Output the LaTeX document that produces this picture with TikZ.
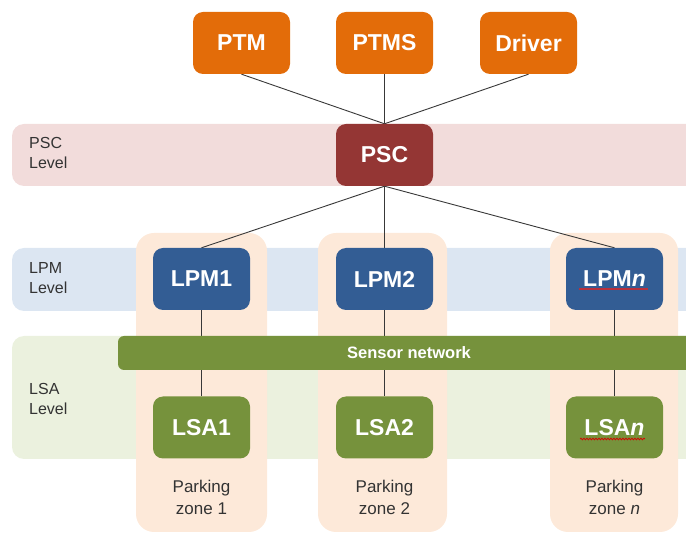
\documentclass[tikz,border=0pt]{standalone}
\usepackage{fontspec}
\setmainfont{Liberation Sans}
\usetikzlibrary{decorations.pathmorphing}
\definecolor{orng}{HTML}{E36C09}
\definecolor{pscred}{HTML}{943634}
\definecolor{lpmblue}{HTML}{335D94}
\definecolor{lsagreen}{HTML}{76923C}
\definecolor{pinkband}{HTML}{F2DCDB}
\definecolor{blueband}{HTML}{DCE6F2}
\definecolor{greenband}{HTML}{EBF1DE}
\definecolor{peach}{HTML}{FDE9D9}
\definecolor{txtgray}{HTML}{333333}
\definecolor{linegray}{HTML}{383838}
\definecolor{spellred}{HTML}{B8303C}
\pgfdeclarelayer{bg}
\pgfdeclarelayer{lines}
\pgfsetlayers{bg,lines,main}
\begin{document}
\begin{tikzpicture}[x=1pt,y=-1pt,
 box/.style={rounded corners=10pt, minimum width=97pt, minimum height=62pt, text=white, font=\fontsize{23}{27}\selectfont\bfseries, inner sep=0pt},
 band/.style={rounded corners=12pt},
 lvl/.style={anchor=west, align=left, text=txtgray, font=\fontsize{16}{20}\selectfont, inner sep=0pt},
 zone/.style={align=center, text=txtgray, font=\fontsize{17}{22}\selectfont, inner sep=0pt},
 conn/.style={draw=linegray, line width=0.9pt}]
\useasboundingbox (0,0) rectangle (686,534);
\clip (0,0) rectangle (686,534);
\begin{pgfonlayer}{bg}
\fill[pinkband, band] (12,124) rectangle (710,186);
\fill[blueband, band] (12,248) rectangle (710,311);
\fill[greenband, band] (12,336) rectangle (710,459);
\foreach \l/\r in {136/267, 318/447, 550/678}
  \fill[peach, rounded corners=18pt] (\l,233) rectangle (\r,532);
\end{pgfonlayer}
% level labels
\node[lvl] (psclvl) at (29,153) {PSC\\Level};
\node[lvl] (lpmlvl) at (29,278) {LPM\\Level};
\node[lvl] (lsalvl) at (29,399) {LSA\\Level};
% top boxes
\node[box, fill=orng] (ptm) at (241.5,43) {PTM};
\node[box, fill=orng] (ptms) at (384.5,43) {PTMS};
\node[box, fill=orng] (driver) at (528.5,43) {Driver};
\node[box, fill=pscred] (psc) at (384.5,155) {PSC};
% LPM
\node[box, fill=lpmblue] (lpm1) at (201.5,279) {LPM1};
\node[box, fill=lpmblue] (lpm2) at (384.5,279) {LPM2};
\node[box, fill=lpmblue] (lpmn) at (614.5,279) {LPM\textit{n}};
% sensor network
\node[fill=lsagreen, rounded corners=6pt, minimum width=582pt, minimum height=34pt, inner sep=0pt, text=white, font=\fontsize{16.5}{19}\selectfont\bfseries] (sensor) at (409,353) {Sensor network};
% LSA
\node[box, fill=lsagreen] (lsa1) at (201.5,427.5) {LSA1};
\node[box, fill=lsagreen] (lsa2) at (384.5,427.5) {LSA2};
\node[box, fill=lsagreen] (lsan) at (614.5,427.5) {LSA\textit{n}};
% zone labels
\node[zone] (z1) at (201.5,497) {Parking\\zone 1};
\node[zone] (z2) at (384.5,497) {Parking\\zone 2};
\node[zone] (zn) at (614.5,497) {Parking\\zone \textit{n}};
% spell-check marks
\draw[spellred, line width=1.6pt] (579,289) -- (648,289);
\draw[red!85!black, line width=0.7pt, decorate, decoration={snake, amplitude=0.9pt, segment length=3pt}] (580,439) -- (645,439);
% connectors
\begin{pgfonlayer}{lines}
\draw[conn] (ptm.south) -- (psc.north);
\draw[conn] (ptms.south) -- (psc.north);
\draw[conn] (driver.south) -- (psc.north);
\draw[conn] (psc.south) -- (lpm1.north);
\draw[conn] (psc.south) -- (lpm2.north);
\draw[conn] (psc.south) -- (lpmn.north);
\draw[conn] (lpm1.south) -- (lsa1.north);
\draw[conn] (lpm2.south) -- (lsa2.north);
\draw[conn] (lpmn.south) -- (lsan.north);
\end{pgfonlayer}
\end{tikzpicture}
\end{document}
